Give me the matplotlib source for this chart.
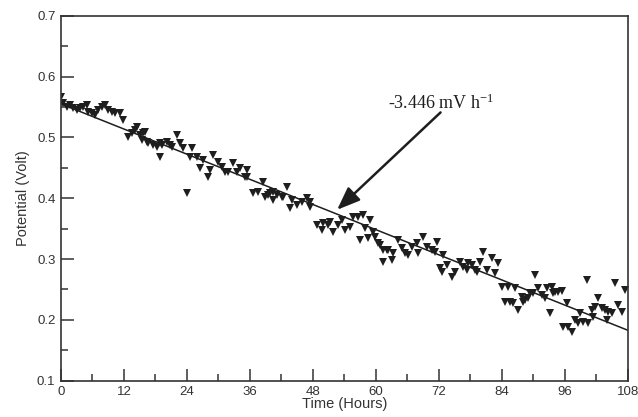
import matplotlib
matplotlib.use('Agg')
import matplotlib.pyplot as plt
import numpy as np

# potential readings (hours, volt)
hours = [0.0, 0.4, 1.1, 1.7, 2.3, 3.0, 3.6, 4.2, 5.0, 5.1, 5.9, 6.5, 7.0, 7.8, 8.4,
         9.0, 9.7, 10.3, 11.2, 11.8, 12.8, 13.5, 14.1, 14.5, 15.0, 15.4,
         15.6, 16.0, 16.4, 16.6, 17.5, 18.3, 18.9, 18.9, 19.2, 20.2, 20.8, 21.1,
         22.1, 22.7, 23.2, 24.0, 24.6, 25.0, 25.9, 26.5, 27.0, 28.0, 28.4, 29.0,
         29.9, 30.7, 31.2, 31.8, 32.8, 33.5, 34.1, 35.0, 35.4, 35.4, 36.6, 37.5,
         38.5, 38.9, 39.4, 39.8, 40.4, 40.4, 41.1, 42.1, 42.3, 43.0, 43.6, 44.0,
         45.0, 45.9, 46.9, 47.4, 47.4, 48.8, 49.7, 49.9, 50.9, 51.2, 51.8, 52.8,
         53.5, 54.1, 55.0, 55.6, 56.6, 57.0, 57.5, 57.9, 58.5, 58.9, 59.4, 59.8,
         60.4, 60.8, 61.3, 61.3, 62.1, 62.3, 63.0, 63.2, 64.2, 65.0, 65.5, 66.1,
         66.9, 67.8, 68.0, 69.0, 69.7, 70.7, 71.2, 71.6, 72.2, 72.6, 72.8, 73.5,
         74.5, 75.0, 76.0, 76.6, 77.3, 77.5, 78.3, 78.9, 79.2, 79.8, 80.4, 81.1,
         82.1, 82.7, 83.2, 84.0, 84.6, 85.1, 85.5, 86.1, 86.5, 87.0, 87.8, 88.0,
         88.4, 89.0, 89.3, 89.9, 90.3, 90.9, 91.6, 92.2, 92.6, 93.1, 93.5, 93.7,
         94.1, 94.7, 95.4, 95.6, 96.4, 96.6, 97.3, 97.9, 98.5, 98.9, 99.4, 100.2,
         100.4, 101.1, 101.3, 101.7, 102.3, 103.0, 103.6, 104.0, 104.2, 105.0,
         105.5, 106.1, 106.9, 107.4]
potential = [0.567, 0.556, 0.550, 0.553, 0.548, 0.545, 0.548, 0.550, 0.553, 0.542,
             0.540, 0.537, 0.545, 0.550, 0.553, 0.545, 0.542, 0.540, 0.540, 0.529,
             0.500, 0.507, 0.512, 0.517, 0.504, 0.496,
             0.507, 0.509, 0.492, 0.491, 0.487, 0.484, 0.491, 0.468, 0.487, 0.492,
             0.487, 0.484, 0.504, 0.491, 0.483, 0.408, 0.468, 0.483, 0.468, 0.450,
             0.463, 0.435, 0.446, 0.471, 0.460, 0.451, 0.443, 0.443, 0.458, 0.443,
             0.450, 0.435, 0.446, 0.435, 0.409, 0.410, 0.427, 0.402, 0.405, 0.409,
             0.410, 0.397, 0.405, 0.402, 0.402, 0.418, 0.384, 0.397, 0.389, 0.394,
             0.400, 0.394, 0.386, 0.356, 0.348, 0.359, 0.356, 0.361, 0.344, 0.356,
             0.364, 0.348, 0.353, 0.369, 0.369, 0.331, 0.372, 0.351, 0.335, 0.364,
             0.344, 0.336, 0.326, 0.323, 0.315, 0.295, 0.315, 0.315, 0.298, 0.310,
             0.331, 0.318, 0.310, 0.307, 0.320, 0.326, 0.310, 0.336, 0.320, 0.315,
             0.312, 0.328, 0.285, 0.279, 0.307, 0.290, 0.270, 0.279, 0.295, 0.287,
             0.282, 0.293, 0.290, 0.282, 0.279, 0.295, 0.312, 0.282, 0.302, 0.277,
             0.293, 0.254, 0.229, 0.254, 0.229, 0.228, 0.252, 0.216, 0.238, 0.229,
             0.233, 0.236, 0.244, 0.244, 0.274, 0.252, 0.241, 0.236, 0.252, 0.211,
             0.254, 0.244, 0.246, 0.246, 0.247, 0.188, 0.228, 0.188, 0.180, 0.200,
             0.195, 0.211, 0.196, 0.265, 0.195, 0.216, 0.205, 0.221, 0.236, 0.220,
             0.216, 0.200, 0.213, 0.211, 0.261, 0.224, 0.213, 0.249]

# linear fit
fit_intercept = 0.555
fit_slope = -0.003446
fit_range = [0, 108]

fig = plt.figure(figsize=(6.38, 4.17), dpi=100)
ax = fig.add_axes([0.0956, 0.087, 0.8887, 0.8754])

ax.plot(hours, potential, 'v', color='#1e1e1e', markersize=6, markeredgewidth=0)
fx = np.array(fit_range)
ax.plot(fx, fit_intercept + fit_slope * fx, color='#1e1e1e', lw=1.1)

ax.annotate('', xy=(52.6, 0.381), xytext=(72.3, 0.541),
            arrowprops=dict(arrowstyle='-|>,head_length=1.4,head_width=0.55',
                            color='#1e1e1e', lw=1.8, shrinkA=0, shrinkB=0))
ax.text(62.3, 0.556, r'-3.446 mV h$\mathregular{^{-1}}$', fontsize=13,
        family='Liberation Serif', va='center', ha='left', color='#1e1e1e')

ax.set_xlim(0, 108)
ax.set_ylim(0.1, 0.7)
ax.set_xticks(np.arange(0, 109, 12))
ax.set_xticks(np.arange(6, 108, 12), minor=True)
ax.set_yticks(np.arange(0.1, 0.71, 0.1))
ax.set_yticks(np.arange(0.15, 0.7, 0.1), minor=True)
ax.set_yticklabels(['0.1', '0.2', '0.3', '0.4', '0.5', '0.6', '0.7'])

for s in ax.spines.values():
    s.set_color('#333333')
    s.set_linewidth(1.2)
ax.tick_params(which='major', direction='in', length=9, width=1.1, color='#333333',
               labelsize=9.5, labelcolor='#333333', pad=4)
ax.tick_params(which='minor', direction='in', length=5, width=1.1, color='#333333')
for lab in ax.get_xticklabels() + ax.get_yticklabels():
    lab.set_family('Liberation Sans')

ax.set_xlabel('Time (Hours)', fontsize=10.5, family='Liberation Sans', color='#333333', labelpad=-1)
ax.set_ylabel('Potential (Volt)', fontsize=10.5, family='Liberation Sans', color='#333333', labelpad=5)

fig.savefig('out.png', dpi=100)
